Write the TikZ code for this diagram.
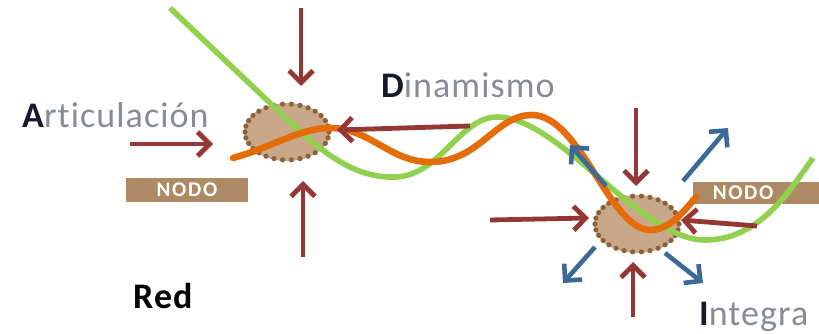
\documentclass[tikz,border=0pt]{standalone}
\usepackage{fontspec}
\setmainfont[Ligatures=NoCommon]{Carlito}
\usetikzlibrary{arrows.meta,shapes.geometric,calc}
\definecolor{cgreen}{RGB}{146,208,80}
\definecolor{corange}{RGB}{228,108,10}
\definecolor{cred}{RGB}{149,55,53}
\definecolor{cblue}{RGB}{60,105,152}
\definecolor{ctan}{RGB}{201,168,138}
\definecolor{cdot}{RGB}{140,98,57}
\definecolor{cbox}{RGB}{173,138,100}
\definecolor{cgray}{RGB}{135,140,150}
\definecolor{cdark}{RGB}{25,25,45}
\tikzset{
  nodeell/.style={ellipse, fill=ctan, minimum width=86pt, minimum height=58pt, inner sep=0pt},
  dotstyle/.style={fill=cdot},
  nodobox/.style={fill=cbox, minimum height=24pt, inner sep=0pt, text=white,
    font=\fontsize{21}{22}\selectfont\bfseries\addfontfeature{LetterSpace=8}},
  redarr/.style={draw=cred, line width=4.8pt, -{Straight Barb[length=12pt,width=24pt,line width=4.8pt]}},
  bluearr/.style={draw=cblue, line width=4.6pt, -{Straight Barb[length=12pt,width=24pt,line width=4.6pt]}},
  label/.style={anchor=base west, inner sep=0pt, text=cgray, font=\fontsize{36}{40}\selectfont\addfontfeature{LetterSpace=3}},
}
\begin{document}
\begin{tikzpicture}[x=1pt,y=-1pt]
\useasboundingbox (0,0) rectangle (819,334);
% nodes (ellipses)
\node[nodeell] (n1) at (287,132) {};
\node[nodeell] (n2) at (637,224) {};
\foreach \n in {n1,n2}{
  \foreach \a in {0,12,...,348}{
    \fill[dotstyle] ($(\n.center)+({42*cos(\a)},{28*sin(\a)})$) circle [radius=2.6];
  }
}
% NODO boxes
\node[nodobox, minimum width=122pt] (b1) at (187,189.5) {NODO};
\node[nodobox, minimum width=130pt, minimum height=22pt] (b2) at (758,193) {\hspace*{-30pt}NODO};
% green curve
\draw[cgreen, line width=5.6pt] (170,8) -- (290,122) .. controls (330,160) and (360,178) .. (395,177)
  .. controls (440,176) and (460,117) .. (497,117)
  .. controls (560,117) and (640,240) .. (705,240)
  .. controls (760,240) and (790,190) .. (813,158);
% orange curve
\draw[corange, line width=6.6pt, line cap=round] (233,158) .. controls (270,148) and (300,128) .. (330,128)
  .. controls (370,128) and (390,162) .. (430,162)
  .. controls (480,162) and (495,115) .. (532,115)
  .. controls (580,115) and (610,230) .. (650,230)
  .. controls (670,230) and (685,210) .. (696,197);
% coordinates for arrow ends
\coordinate (t1a) at (301,8);   \coordinate (t1b) at (301,86);
\coordinate (u1a) at (303,257); \coordinate (u1b) at (303,181);
\coordinate (l1a) at (130,144); \coordinate (l1b) at (213,144);
\coordinate (r1a) at (470,126); \coordinate (r1b) at (337,130);
\coordinate (t2a) at (636,108); \coordinate (t2b) at (636,186);
\coordinate (u2a) at (633,317); \coordinate (u2b) at (633,262);
\coordinate (l2a) at (490,220); \coordinate (l2b) at (589,218);
\coordinate (r2a) at (757,226); \coordinate (r2b) at (681,220);
\coordinate (ba1) at (606,186); \coordinate (bb1) at (570,145);
\coordinate (ba2) at (683,181); \coordinate (bb2) at (728,128);
\coordinate (ba3) at (595,247); \coordinate (bb3) at (563,283);
\coordinate (ba4) at (665,253); \coordinate (bb4) at (703,283);
% red arrows
\draw[redarr] (t1a) -- (t1b);
\draw[redarr] (u1a) -- (u1b);
\draw[redarr] (l1a) -- (l1b);
\draw[redarr] (r1a) -- (r1b);
\draw[redarr] (t2a) -- (t2b);
\draw[redarr] (u2a) -- (u2b);
\draw[redarr] (l2a) -- (l2b);
\draw[redarr] (r2a) -- (r2b);
% blue arrows
\draw[bluearr] (ba1) -- (bb1);
\draw[bluearr] (ba2) -- (bb2);
\draw[bluearr] (ba3) -- (bb3);
\draw[bluearr] (ba4) -- (bb4);
% labels
\node[label] (art) at (22,128) {\textcolor{cdark}{\bfseries A}rticulación};
\node[label] (din) at (381,98) {\textcolor{cdark}{\bfseries D}inamismo};
\node[label, text=black] (red) at (133,308) {\bfseries Red};
\node[label] (int) at (699,325) {\textcolor{cdark}{\bfseries I}ntegra};
\end{tikzpicture}
\end{document}
